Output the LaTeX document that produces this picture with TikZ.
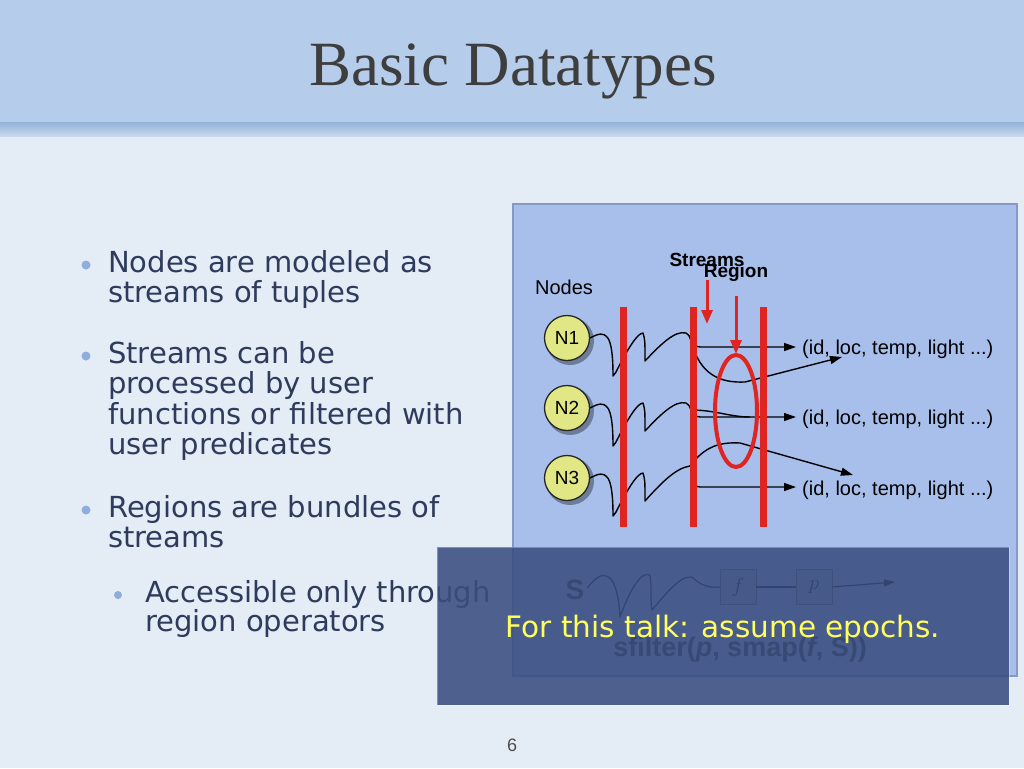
\documentclass[tikz,border=0pt]{standalone}
\usepackage{fontspec}
\setmainfont{DejaVu Sans}
\newfontfamily\titlefont{Liberation Serif}
\newfontfamily\helv{Liberation Sans}
\usetikzlibrary{arrows.meta}
\definecolor{pagebg}{HTML}{E4ECF6}
\definecolor{band}{HTML}{B5CCEA}
\definecolor{bandstripe}{HTML}{93B2DA}
\definecolor{bodytext}{HTML}{2E3B5C}
\definecolor{bulletc}{HTML}{8EAEDC}
\definecolor{figfill}{HTML}{A8BFEC}
\definecolor{figedge}{HTML}{8798C4}
\definecolor{barred}{HTML}{E02420}
\definecolor{nodeyellow}{HTML}{E0E784}
\definecolor{overlayc}{HTML}{3A4E80}
\definecolor{talkyellow}{HTML}{FFFF5E}
\definecolor{titlec}{HTML}{3E3E3E}
\tikzset{
  bodyline/.style={anchor=base west, inner sep=0pt, text=bodytext, font=\fontsize{29}{30}\selectfont},
  bulletdot/.style={circle, fill=bulletc, inner sep=0pt, minimum size=9pt},
  subdot/.style={circle, fill=bulletc, inner sep=0pt, minimum size=8pt},
  redbar/.style={barred, line width=7pt},
  redarrow/.style={barred, line width=3pt, -{Triangle[length=14pt,width=11pt]}},
  sensor/.style={circle, fill=nodeyellow, draw=black!85, line width=1.3pt, minimum size=45pt, inner sep=0pt, font=\helv\fontsize{19}{19}\selectfont},
  squig/.style={black, line width=1.4pt},
  flow/.style={black, line width=1.4pt, -{Triangle[length=12pt,width=8pt]}},
  tuple/.style={anchor=base west, inner sep=0pt, font=\helv\fontsize{20}{20}\selectfont},
  figlabel/.style={inner sep=0pt, font=\helv\fontsize{20}{20}\selectfont},
  opbox/.style={draw=black!60, fill=figfill!80!gray, minimum width=36pt, minimum height=35pt, inner sep=0pt, font=\fontsize{22}{22}\selectfont}
}
\begin{document}
\begin{tikzpicture}[x=1pt,y=-1pt]
\useasboundingbox (0,0) rectangle (1024,768);
% background
\fill[pagebg] (0,0) rectangle (1024,768);
\fill[band] (0,0) rectangle (1024,124);
\shade[top color=bandstripe, bottom color=band!60!pagebg] (0,122) rectangle (1024,136);
\node[font=\titlefont\fontsize{63}{63}\selectfont, text=titlec, anchor=base] (title) at (513,85) {Basic Datatypes};

% bullets
\node[bulletdot] (b1) at (86,265) {};
\node[bodyline] (t1a) at (108,272) {Nodes are modeled as};
\node[bodyline] (t1b) at (108,302) {streams of tuples};
\node[bulletdot] (b2) at (86,356) {};
\node[bodyline] (t2a) at (108,363) {Streams can be};
\node[bodyline] (t2b) at (108,393) {processed by user};
\node[bodyline] (t2c) at (108,424) {functions or filtered with};
\node[bodyline] (t2d) at (108,454) {user predicates};
\node[bulletdot] (b3) at (86,510) {};
\node[bodyline] (t3a) at (108,517) {Regions are bundles of};
\node[bodyline] (t3b) at (108,547) {streams};
\node[subdot] (b4) at (118,595) {};
\node[bodyline] (t4a) at (145,602) {Accessible only through};
\node[bodyline] (t4b) at (145,631) {region operators};

% figure box
\draw[figedge, fill=figfill, line width=1.5pt] (513,204) rectangle (1017,676);
\node[figlabel] (lnodes) at (564,287) {Nodes};
\node[figlabel, font=\helv\bfseries\fontsize{19}{19}\selectfont] (lstreams) at (707,260) {Streams};
\node[figlabel, font=\helv\bfseries\fontsize{19}{19}\selectfont] (lregion) at (736,273) {Region};

% shadows and sensor nodes
\foreach \yy in {338,408,478}{
  \fill[black, opacity=0.35] (570,\yy+3) circle (24);
}
\node[sensor] (n1) at (567,338) {N1};
\node[sensor] (n2) at (567,408) {N2};
\node[sensor] (n3) at (567,478) {N3};

% squiggles
\coordinate (e1) at (691,341);
\coordinate (e2) at (691,410);
\coordinate (e3) at (690,466);
\draw[squig, line join=round] (n1.east) .. controls (606,329) and (613,333) .. (613,376)
   -- (616,372) .. controls (626,352) and (637,333) .. (643,333)
   .. controls (645,340) .. (645,361)
   .. controls (660,345) and (675,330) .. (686,333) .. controls (689,335) .. (e1);
\draw[squig, line join=round] (n2.east) .. controls (606,399) and (613,403) .. (613,446)
   -- (616,442) .. controls (626,422) and (637,403) .. (643,403)
   .. controls (645,410) .. (645,431)
   .. controls (660,415) and (675,400) .. (686,403) .. controls (689,405) .. (e2);
\draw[squig, line join=round] (n3.east) .. controls (606,469) and (613,473) .. (613,516)
   -- (616,512) .. controls (626,492) and (637,473) .. (643,473)
   .. controls (645,480) .. (645,501)
   .. controls (662,482) and (676,468) .. (e3);

% tuples
\node[tuple] (tp1) at (802,354) {(id, loc, temp, light ...)};
\node[tuple] (tp2) at (802,424) {(id, loc, temp, light ...)};
\node[tuple] (tp3) at (802,495) {(id, loc, temp, light ...)};
\coordinate (x1) at (842,357);
\coordinate (x3) at (853,475);

% flows
\draw[flow] (e1) .. controls (694,346) .. (700,347) -- ([xshift=-6pt]tp1.west |- 0,347);
\draw[flow] (e1) .. controls (700,375) and (720,383) .. (745,382) -- (x1);
\draw[flow] (e2) .. controls (694,416) .. (700,417) -- ([xshift=-6pt]tp2.west |- 0,417);
\draw[squig] (e2) .. controls (715,410) and (730,417) .. (750,417);
\draw[flow] (e3) .. controls (705,446) and (720,442) .. (740,443) -- (x3);
\draw[flow] (692,480) .. controls (694,486) .. (700,487) -- ([xshift=-6pt]tp3.west |- 0,487);

% red bars
\coordinate (bar1t) at (623,307); \coordinate (bar1b) at (623,527);
\coordinate (bar2t) at (693,307); \coordinate (bar2b) at (693,527);
\coordinate (bar3t) at (763,307); \coordinate (bar3b) at (763,527);
\draw[redbar] (bar1t) -- (bar1b);
\draw[redbar] (bar2t) -- (bar2b);
\draw[redbar] (bar3t) -- (bar3b);
% region ellipse and red arrows
\draw[barred, line width=4pt] (736,411) ellipse (21 and 56);
\draw[redarrow] (707,280) -- (707,324);
\draw[redarrow] (736,296) -- (736,354);

% lower part of figure (behind overlay)
\node[font=\helv\bfseries\fontsize{28}{28}\selectfont, text=black!85, inner sep=0pt] (sS) at (575,590) {S};
\node[opbox] (fb) at (738,587) {$f$};
\node[opbox] (pb) at (814,587) {$p$};
\coordinate (sout) at (895,582);
\draw[squig, line width=1.2pt, line join=round] (sS.east) ++(3,-2) .. controls (600,570) and (617,565) .. (620,617)
   .. controls (628,595) and (640,570) .. (650,575)
   .. controls (652,590) and (650,600) .. (652,610)
   .. controls (665,595) and (680,575) .. (692,577)
   .. controls (700,585) and (708,588) .. (fb.west);
\draw[black, line width=1.2pt] (fb.east) -- (pb.west);
\draw[black, line width=1.2pt, -{Triangle[length=11pt,width=7pt]}] (pb.east) -- (sout);
\node[font=\helv\bfseries\fontsize{27}{27}\selectfont, text=black!85, anchor=base, inner sep=0pt] (sfil) at (740,656) {sfilter(\textit{p}, smap(\textit{f}, S))};

% overlay
\fill[overlayc, opacity=0.88] (437,547) rectangle (1009,705);
\draw[white, opacity=0.3, line width=1pt] (437,547) rectangle (1009,705);
\node[font=\fontsize{29.5}{30}\selectfont, text=talkyellow, anchor=base, inner sep=0pt] (talk) at (723,637) {For this talk: assume epochs.};

% page number
\node[font=\helv\fontsize{18}{18}\selectfont, text=black!70, inner sep=0pt] (pg) at (512,745) {6};
\end{tikzpicture}
\end{document}
